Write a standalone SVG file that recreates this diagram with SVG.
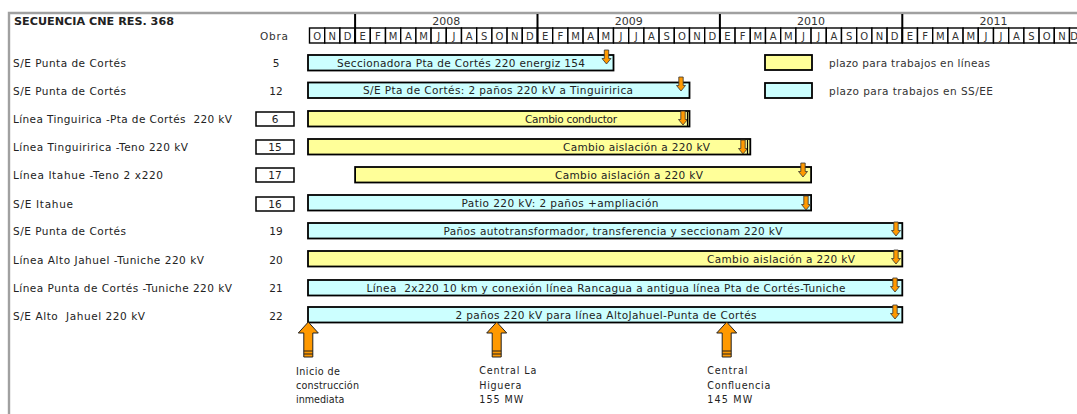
<svg xmlns="http://www.w3.org/2000/svg" width="1077" height="414" viewBox="0 0 1077 414">
<style>
text{font-family:"DejaVu Sans","Liberation Sans",sans-serif;fill:#222;white-space:pre}
.t{font-size:10.5px}
.b{font-size:10.5px;text-anchor:middle}
.m{font-size:10px;text-anchor:middle;fill:#333}
.y{font-size:11px;text-anchor:middle;fill:#333}
.n{font-size:10.5px;text-anchor:middle}
.s{font-size:9.6px}
.bl{fill:#ccffff;stroke:#000;stroke-width:1.8}
.ye{fill:#ffff99;stroke:#000;stroke-width:1.8}
.nb{fill:#fff;stroke:#000;stroke-width:1.5}
.cell{fill:#fff;stroke:#000;stroke-width:1.4}
.arr{fill:#ff9900;stroke:#333;stroke-width:0.8}
</style>
<defs>
<path id="da" d="M-2.2,0 H2.2 V8.5 H4.5 L0,14 L-4.5,8.5 H-2.2 Z"/>
<g id="ua">
<path d="M0,0 L10,11 H4.5 V35 H-4.5 V11 H-10 Z" fill="#ff9900" stroke="#222" stroke-width="1"/>
<path d="M-4.5,29 H4.5 M-4.5,32 H4.5" stroke="#222" stroke-width="1.2"/>
</g>
</defs>
<rect width="1077" height="414" fill="#fff"/>
<path d="M9,414 V13 H1077" fill="none" stroke="#a0a0a0" stroke-width="2.4"/>
<g id="header">
<text x="14" y="24.5" style="font-size:11px;font-weight:bold" textLength="160" lengthAdjust="spacingAndGlyphs">SECUENCIA CNE RES. 368</text>
<text x="260" y="40" class="t" style="fill:#333" textLength="28">Obra</text>
<g id="months">
<rect class="cell" x="309.5" y="28" width="15.2" height="15"/><text class="m" x="317.1" y="39.5">O</text>
<rect class="cell" x="324.7" y="28" width="15.2" height="15"/><text class="m" x="332.3" y="39.5">N</text>
<rect class="cell" x="339.9" y="28" width="15.2" height="15"/><text class="m" x="347.5" y="39.5">D</text>
<rect class="cell" x="355.1" y="28" width="15.2" height="15"/><text class="m" x="362.7" y="39.5">E</text>
<rect class="cell" x="370.3" y="28" width="15.2" height="15"/><text class="m" x="377.9" y="39.5">F</text>
<rect class="cell" x="385.5" y="28" width="15.2" height="15"/><text class="m" x="393.1" y="39.5">M</text>
<rect class="cell" x="400.7" y="28" width="15.2" height="15"/><text class="m" x="408.3" y="39.5">A</text>
<rect class="cell" x="415.9" y="28" width="15.2" height="15"/><text class="m" x="423.5" y="39.5">M</text>
<rect class="cell" x="431.1" y="28" width="15.2" height="15"/><text class="m" x="438.7" y="39.5">J</text>
<rect class="cell" x="446.3" y="28" width="15.2" height="15"/><text class="m" x="453.9" y="39.5">J</text>
<rect class="cell" x="461.5" y="28" width="15.2" height="15"/><text class="m" x="469.1" y="39.5">A</text>
<rect class="cell" x="476.7" y="28" width="15.2" height="15"/><text class="m" x="484.3" y="39.5">S</text>
<rect class="cell" x="491.9" y="28" width="15.2" height="15"/><text class="m" x="499.5" y="39.5">O</text>
<rect class="cell" x="507.1" y="28" width="15.2" height="15"/><text class="m" x="514.7" y="39.5">N</text>
<rect class="cell" x="522.3" y="28" width="15.2" height="15"/><text class="m" x="529.9" y="39.5">D</text>
<rect class="cell" x="537.5" y="28" width="15.2" height="15"/><text class="m" x="545.1" y="39.5">E</text>
<rect class="cell" x="552.7" y="28" width="15.2" height="15"/><text class="m" x="560.3" y="39.5">F</text>
<rect class="cell" x="567.9" y="28" width="15.2" height="15"/><text class="m" x="575.5" y="39.5">M</text>
<rect class="cell" x="583.1" y="28" width="15.2" height="15"/><text class="m" x="590.7" y="39.5">A</text>
<rect class="cell" x="598.3" y="28" width="15.2" height="15"/><text class="m" x="605.9" y="39.5">M</text>
<rect class="cell" x="613.5" y="28" width="15.2" height="15"/><text class="m" x="621.1" y="39.5">J</text>
<rect class="cell" x="628.7" y="28" width="15.2" height="15"/><text class="m" x="636.3" y="39.5">J</text>
<rect class="cell" x="643.9" y="28" width="15.2" height="15"/><text class="m" x="651.5" y="39.5">A</text>
<rect class="cell" x="659.1" y="28" width="15.2" height="15"/><text class="m" x="666.7" y="39.5">S</text>
<rect class="cell" x="674.3" y="28" width="15.2" height="15"/><text class="m" x="681.9" y="39.5">O</text>
<rect class="cell" x="689.5" y="28" width="15.2" height="15"/><text class="m" x="697.1" y="39.5">N</text>
<rect class="cell" x="704.7" y="28" width="15.2" height="15"/><text class="m" x="712.3" y="39.5">D</text>
<rect class="cell" x="719.9" y="28" width="15.2" height="15"/><text class="m" x="727.5" y="39.5">E</text>
<rect class="cell" x="735.1" y="28" width="15.2" height="15"/><text class="m" x="742.7" y="39.5">F</text>
<rect class="cell" x="750.3" y="28" width="15.2" height="15"/><text class="m" x="757.9" y="39.5">M</text>
<rect class="cell" x="765.5" y="28" width="15.2" height="15"/><text class="m" x="773.1" y="39.5">A</text>
<rect class="cell" x="780.7" y="28" width="15.2" height="15"/><text class="m" x="788.3" y="39.5">M</text>
<rect class="cell" x="795.9" y="28" width="15.2" height="15"/><text class="m" x="803.5" y="39.5">J</text>
<rect class="cell" x="811.1" y="28" width="15.2" height="15"/><text class="m" x="818.7" y="39.5">J</text>
<rect class="cell" x="826.3" y="28" width="15.2" height="15"/><text class="m" x="833.9" y="39.5">A</text>
<rect class="cell" x="841.5" y="28" width="15.2" height="15"/><text class="m" x="849.1" y="39.5">S</text>
<rect class="cell" x="856.7" y="28" width="15.2" height="15"/><text class="m" x="864.3" y="39.5">O</text>
<rect class="cell" x="871.9" y="28" width="15.2" height="15"/><text class="m" x="879.5" y="39.5">N</text>
<rect class="cell" x="887.1" y="28" width="15.2" height="15"/><text class="m" x="894.7" y="39.5">D</text>
<rect class="cell" x="902.3" y="28" width="15.2" height="15"/><text class="m" x="909.9" y="39.5">E</text>
<rect class="cell" x="917.5" y="28" width="15.2" height="15"/><text class="m" x="925.1" y="39.5">F</text>
<rect class="cell" x="932.7" y="28" width="15.2" height="15"/><text class="m" x="940.3" y="39.5">M</text>
<rect class="cell" x="947.9" y="28" width="15.2" height="15"/><text class="m" x="955.5" y="39.5">A</text>
<rect class="cell" x="963.1" y="28" width="15.2" height="15"/><text class="m" x="970.7" y="39.5">M</text>
<rect class="cell" x="978.3" y="28" width="15.2" height="15"/><text class="m" x="985.9" y="39.5">J</text>
<rect class="cell" x="993.5" y="28" width="15.2" height="15"/><text class="m" x="1001.1" y="39.5">J</text>
<rect class="cell" x="1008.7" y="28" width="15.2" height="15"/><text class="m" x="1016.3" y="39.5">A</text>
<rect class="cell" x="1023.9" y="28" width="15.2" height="15"/><text class="m" x="1031.5" y="39.5">S</text>
<rect class="cell" x="1039.1" y="28" width="15.2" height="15"/><text class="m" x="1046.7" y="39.5">O</text>
<rect class="cell" x="1054.3" y="28" width="15.2" height="15"/><text class="m" x="1061.9" y="39.5">N</text>
<rect class="cell" x="1069.5" y="28" width="15.2" height="15"/><text class="m" x="1074" y="39.5">D</text>
</g>
<g id="years" stroke="#000" stroke-width="2">
<path d="M355.1,14 V43 M537.5,14 V43 M719.9,14 V43 M902.3,14 V43"/>
</g>
<text class="y" x="446.3" y="25">2008</text>
<text class="y" x="628.7" y="25">2009</text>
<text class="y" x="811.1" y="25">2010</text>
<text class="y" x="993.5" y="25">2011</text>
</g>
<g id="legend">
<rect class="ye" x="765" y="55" width="47" height="15"/>
<text class="t" x="829" y="66.8" style="fill:#333" textLength="161">plazo para trabajos en líneas</text>
<rect class="bl" x="765" y="83" width="47" height="15"/>
<text class="t" x="829" y="94.8" style="fill:#333" textLength="164">plazo para trabajos en SS/EE</text>
</g>
<g id="row1">
<text class="t" x="13" y="67" textLength="113">S/E Punta de Cortés</text>
<text class="n" x="276" y="67">5</text>
<rect class="bl" x="308" y="55" width="305.5" height="15.5"/>
<text class="b" x="461" y="66.8" textLength="248">Seccionadora Pta de Cortés 220 energiz 154</text>
<use href="#da" class="arr" x="606.5" y="50"/>
</g>
<g id="row2">
<text class="t" x="13" y="95.3" textLength="113">S/E Punta de Cortés</text>
<text class="n" x="276" y="95.3">12</text>
<rect class="bl" x="308" y="82.5" width="381.5" height="15.5"/>
<text class="b" x="498" y="94.3" textLength="270">S/E Pta de Cortés: 2 paños 220 kV a Tinguiririca</text>
<use href="#da" class="arr" x="681" y="77"/>
</g>
<g id="row3">
<text class="t" x="13" y="123" textLength="219">Línea Tinguirica -Pta de Cortés  220 kV</text>
<rect class="nb" x="256" y="112" width="38" height="14"/>
<text class="n" x="275" y="123">6</text>
<rect class="ye" x="308" y="111" width="381.5" height="15.5"/>
<text class="b" x="571" y="122.8" textLength="92">Cambio conductor</text>
<use href="#da" class="arr" x="683" y="111"/>
<path d="M687.5,112 V126" stroke="#000" stroke-width="1.2"/>
</g>
<g id="row4">
<text class="t" x="13" y="150.5" textLength="175">Línea Tinguiririca -Teno 220 kV</text>
<rect class="nb" x="256" y="140" width="38" height="14"/>
<text class="n" x="275" y="151">15</text>
<rect class="ye" x="308" y="139" width="442.3" height="15.5"/>
<text class="b" x="636.5" y="150.8" textLength="147">Cambio aislación a 220 kV</text>
<use href="#da" class="arr" x="743" y="140"/>
<path d="M747.5,140 V154" stroke="#000" stroke-width="1.2"/>
</g>
<g id="row5">
<text class="t" x="13" y="178.7" textLength="150">Línea Itahue -Teno 2 x220</text>
<rect class="nb" x="256" y="168" width="38" height="14"/>
<text class="n" x="275" y="179">17</text>
<rect class="ye" x="355.1" y="167" width="456" height="15.5"/>
<text class="b" x="629" y="178.8" textLength="148">Cambio aislación a 220 kV</text>
<use href="#da" class="arr" x="803" y="163"/>
</g>
<g id="row6">
<text class="t" x="13" y="207.7" textLength="60">S/E Itahue</text>
<rect class="nb" x="256" y="197" width="38" height="14"/>
<text class="n" x="275" y="208">16</text>
<rect class="bl" x="308" y="195" width="503.1" height="15.5"/>
<text class="b" x="560" y="206.8" textLength="197">Patio 220 kV: 2 paños +ampliación</text>
<use href="#da" class="arr" x="806" y="196"/>
</g>
<g id="row7">
<text class="t" x="13" y="235.4" textLength="113">S/E Punta de Cortés</text>
<text class="n" x="276" y="235.4">19</text>
<rect class="bl" x="308" y="223" width="594.3" height="15.5"/>
<text class="b" x="613" y="234.8" textLength="339">Paños autotransformador, transferencia y seccionam 220 kV</text>
<use href="#da" class="arr" x="896" y="222"/>
</g>
<g id="row8">
<text class="t" x="13" y="263.7" textLength="191">Línea Alto Jahuel -Tuniche 220 kV</text>
<text class="n" x="276" y="263.7">20</text>
<rect class="ye" x="308" y="251" width="594.3" height="15.5"/>
<text class="b" x="781" y="262.8" textLength="148">Cambio aislación a 220 kV</text>
<use href="#da" class="arr" x="896" y="250"/>
</g>
<g id="row9">
<text class="t" x="13" y="292" textLength="219">Línea Punta de Cortés -Tuniche 220 kV</text>
<text class="n" x="276" y="292">21</text>
<rect class="bl" x="308" y="280" width="594.3" height="15.5"/>
<text class="b" x="606" y="291.8" textLength="479">Línea  2x220 10 km y conexión línea Rancagua a antigua línea Pta de Cortés-Tuniche</text>
<use href="#da" class="arr" x="895" y="278"/>
</g>
<g id="row10">
<text class="t" x="13" y="320.4" textLength="132">S/E Alto  Jahuel 220 kV</text>
<text class="n" x="276" y="320.4">22</text>
<rect class="bl" x="308" y="307" width="594.3" height="15.5"/>
<text class="b" x="606" y="318.8" textLength="301">2 paños 220 kV para línea AltoJahuel-Punta de Cortés</text>
<use href="#da" class="arr" x="895" y="305"/>
</g>
<g id="connectors">
<use href="#ua" x="308.3" y="322"/>
<use href="#ua" x="496.7" y="322"/>
<use href="#ua" x="726.7" y="322"/>
</g>
<g id="milestones">
<text class="s" x="296" y="375" textLength="44">Inicio de</text>
<text class="s" x="296" y="389" textLength="63">construcción</text>
<text class="s" x="296" y="402.5">inmediata</text>
<text class="s" x="479.3" y="373.5" textLength="57">Central La</text>
<text class="s" x="479.3" y="389" textLength="42">Higuera</text>
<text class="s" x="479.3" y="402.5" textLength="44">155 MW</text>
<text class="s" x="707.3" y="373.5" textLength="40">Central</text>
<text class="s" x="707.3" y="389" textLength="63">Confluencia</text>
<text class="s" x="707.3" y="402.5" textLength="45">145 MW</text>
</g>
</svg>
